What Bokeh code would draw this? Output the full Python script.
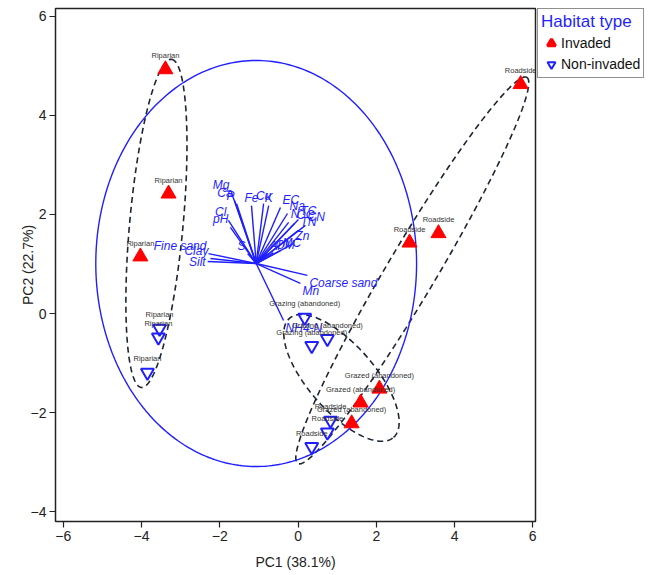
import numpy as np
from bokeh.plotting import figure
from bokeh.layouts import row
from bokeh.models import Legend, LegendItem, FixedTicker, Spacer
from bokeh.core.properties import value
from bokeh.embed import file_html
from bokeh.resources import INLINE

# ---------------- data ----------------
# Invaded sites (PC scores)
inv_pc1 = [-3.39, -3.31, -4.03, 5.69, 2.85, 3.59, 2.08, 1.60, 1.37]
inv_pc2 = [4.93, 2.42, 1.15, 4.63, 1.43, 1.62, -1.52, -1.80, -2.22]
inv_site = ["Riparian", "Riparian", "Riparian", "Roadside", "Roadside", "Roadside",
            "Grazed (abandoned)", "Grazed (abandoned)", "Grazed (abandoned)"]

# Non-invaded sites (PC scores)
non_pc1 = [-3.54, -3.57, -3.85, 0.17, 0.75, 0.35, 0.83, 0.75, 0.35]
non_pc2 = [-0.30, -0.48, -1.19, -0.08, -0.51, -0.65, -2.16, -2.40, -2.69]
non_site = ["Riparian", "Riparian", "Riparian",
            "Grazing (abandoned)", "Grazing (abandoned)", "Grazing (abandoned)",
            "Roadside", "Roadside", "Roadside"]

# Group hull ellipses: centre and two conjugate semi-diameters (PC units)
ell_group = ["Riparian", "Roadside", "Grazing"]
ell_cx = [-3.62, 2.92, 1.11]
ell_cy = [1.82, 0.87, -1.30]
ell_ux = [0.384, 2.928, 1.330]
ell_uy = [3.313, 3.899, -1.202]
ell_vx = [0.680, 0.541, 0.636]
ell_vy = [-0.049, -0.253, 0.439]

# Soil variable loadings (arrow tips, plot units)
var_names = ["Mg", "Ca", "P", "Fe", "Cl", "pH", "Cu", "K", "EC", "Na", "TC", "N", "OC", "CN",
             "TN", "Zn", "Al", "OM", "MC", "S", "Fine sand", "Clay", "Silt", "Coarse sand",
             "Mn", "NH4-N"]
var_pc1 = [-1.70, -1.62, -1.57, -1.19, -1.78, -1.73, -0.88, -0.75, -0.45, -0.27, 0.01, -0.24,
           -0.09, 0.19, 0.01, -0.12, -0.78, -0.63, -0.45, -1.29, -2.29, -2.24, -2.31, 0.24,
           0.06, -0.37]
var_pc2 = [2.44, 2.28, 2.22, 2.18, 1.88, 1.74, 2.22, 2.18, 2.14, 2.02, 1.90, 1.84,
           1.82, 1.78, 1.68, 1.41, 1.21, 1.23, 1.27, 1.21, 1.21, 1.11, 1.05, 0.77,
           0.61, -0.14]
biplot_origin = (-1.07, 1.01)
circle_radius = 4.1

x_ticks = [-6, -4, -2, 0, 2, 4, 6]
y_ticks = [-4, -2, 0, 2, 4, 6]
x_title = "PC1 (38.1%)"
y_title = "PC2 (22.7%)"
legend_title = "Habitat type"
legend_labels = ["Invaded", "Non-invaded"]

# ---------------- layout ----------------
X0, X1 = -6.2, 6.07
Y0, Y1 = -4.2, 6.16
H = 575
LEFT_PAD = 16
BT, BB = 8, 54
FW, FH = 480, H - BT - BB
px_x = FW / (X1 - X0)
px_y = FH / (Y1 - Y0)
RIGHT_W = 115

FONT = "Liberation Sans"
BLUE = "#1f1fff"

p = figure(frame_width=FW, frame_height=FH, x_range=(X0, X1), y_range=(Y0, Y1),
           output_backend="svg", toolbar_location=None,
           min_border_left=0, min_border_right=2, min_border_top=BT, min_border_bottom=BB)
p.xgrid.visible = False
p.ygrid.visible = False
p.outline_line_color = "#222222"
p.outline_line_width = 1.5
p.background_fill_color = "white"
p.border_fill_color = "white"

for ax, ticks in ((p.xaxis[0], x_ticks), (p.yaxis[0], y_ticks)):
    ax.ticker = FixedTicker(ticks=ticks)
    ax.major_label_overrides = {t: (("\u2212" + str(-t)) if t < 0 else str(t)) for t in ticks}
    ax.axis_line_color = None
    ax.major_tick_in = 0
    ax.major_tick_out = 6
    ax.major_tick_line_color = "#222222"
    ax.major_tick_line_width = 1.2
    ax.minor_tick_line_color = None
    ax.major_label_text_font = FONT
    ax.major_label_text_font_size = "14px"
    ax.major_label_text_color = "#222222"
    ax.axis_label_text_font = FONT
    ax.axis_label_text_font_size = "14px"
    ax.axis_label_text_font_style = "normal"
    ax.axis_label_text_color = "#222222"
p.xaxis.axis_label = x_title
p.yaxis.axis_label = y_title
p.xaxis.major_label_standoff = 3
p.yaxis.major_label_standoff = 3
p.xaxis.axis_label_standoff = 10
p.yaxis.axis_label_standoff = -8

# ---------------- group ellipses ----------------
t = np.linspace(0, 2 * np.pi, 300)
for cx, cy, ux, uy, vx, vy in zip(ell_cx, ell_cy, ell_ux, ell_uy, ell_vx, ell_vy):
    p.line(cx + ux * np.cos(t) + vx * np.sin(t), cy + uy * np.cos(t) + vy * np.sin(t),
           line_color="#1c2533", line_width=1.6, line_dash="6 4")

# ---------------- correlation circle ----------------
ox, oy = biplot_origin
p.line(ox + circle_radius * np.cos(t), oy + circle_radius * np.sin(t),
       line_color=BLUE, line_width=1.4)

# ---------------- arrows ----------------
p.segment(x0=[ox] * len(var_names), y0=[oy] * len(var_names), x1=var_pc1, y1=var_pc2,
          line_color=BLUE, line_width=1.4)

groups = {}
for nm, vx_, vy_ in zip(var_names, var_pc1, var_pc2):
    dx = (vx_ - ox) * px_x
    dy = (vy_ - oy) * px_y
    r = np.hypot(dx, dy)
    cs, sn = dx / r, dy / r
    align = "left" if cs > 0.3 else ("right" if cs < -0.3 else "center")
    base = "bottom" if sn > 0.1 else ("top" if sn < -0.1 else "middle")
    groups.setdefault((align, base), []).append((nm, vx_, vy_))
for (align, base), items in groups.items():
    xo = 2 if align == "left" else (-2 if align == "right" else 0)
    yo = -1 if base == "bottom" else (1 if base == "top" else 0)
    p.text(x=[i[1] for i in items], y=[i[2] for i in items], text=[i[0] for i in items],
           text_align=align, text_baseline=base, x_offset=xo, y_offset=yo,
           text_font=value(FONT), text_font_style="italic", text_font_size="12px",
           text_color=BLUE)

# ---------------- points ----------------
p.scatter(inv_pc1, inv_pc2, marker="triangle", size=15, fill_color="#ff0000",
          line_color="#ff0000", line_width=1)
p.scatter(non_pc1, non_pc2, marker="inverted_triangle", size=13, fill_color=None,
          line_color=BLUE, line_width=2)

p.text(x=inv_pc1 + non_pc1, y=inv_pc2 + non_pc2, text=inv_site + non_site,
       text_align="center", text_baseline="bottom", y_offset=-9,
       text_font=value(FONT), text_font_size="7.5px", text_color="#333333")

# ---------------- legend (side panel figure) ----------------
p2 = figure(width=RIGHT_W, height=H, x_range=(10, 11), y_range=(10, 11),
            x_axis_type=None, y_axis_type=None, output_backend="svg",
            toolbar_location=None, min_border_left=0, min_border_right=0,
            min_border_top=5, min_border_bottom=0)
p2.xgrid.visible = False
p2.ygrid.visible = False
p2.outline_line_color = None
p2.border_fill_color = "white"
# same series (they fall outside this panel's ranges, only their legend keys show)
l_inv = p2.scatter(inv_pc1, inv_pc2, marker="triangle", fill_color="#ff0000",
                   line_color="#ff0000", line_width=3)
l_non = p2.scatter(non_pc1, non_pc2, marker="inverted_triangle", fill_color=None,
                   line_color=BLUE, line_width=2)
legend = Legend(items=[LegendItem(label=legend_labels[0], renderers=[l_inv]),
                       LegendItem(label=legend_labels[1], renderers=[l_non])],
                title=legend_title, location="top_left")
legend.title_text_font = FONT
legend.title_text_font_size = "17px"
legend.title_text_color = BLUE
legend.title_text_font_style = "normal"
legend.title_standoff = 1
legend.label_text_font = FONT
legend.label_text_font_size = "14px"
legend.label_text_color = "#111111"
legend.glyph_width = 20
legend.glyph_height = 20
legend.label_standoff = 0
legend.label_height = 20
legend.spacing = 1
legend.padding = 3
legend.margin = 0
legend.border_line_color = "#222222"
legend.border_line_width = 1.5
legend.background_fill_alpha = 1
p2.add_layout(legend, "center")

layout = row(Spacer(width=LEFT_PAD, height=H), p, p2)
open("out.html", "w").write(file_html(layout, INLINE))
